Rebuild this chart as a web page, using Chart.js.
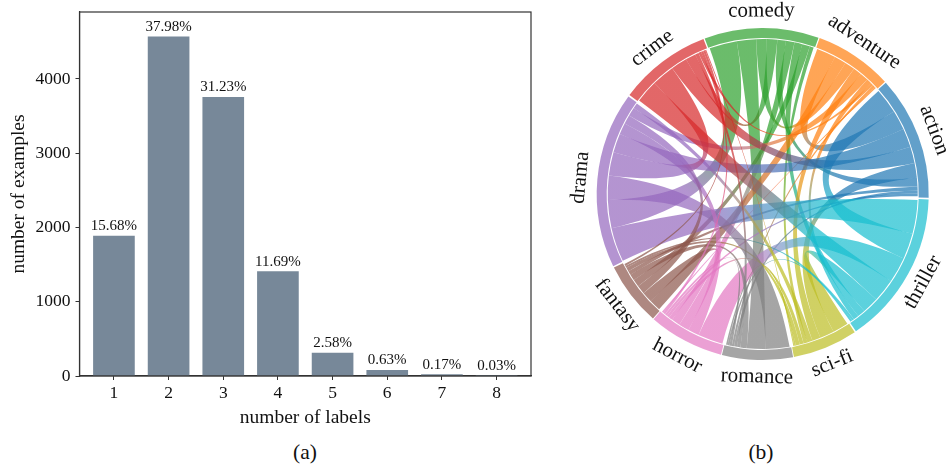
<!DOCTYPE html>
<html>
<head>
<meta charset="utf-8">
<script src="https://cdn.jsdelivr.net/npm/chart.js@4"></script>
<style>
    html, body { margin: 0; padding: 0; width: 946px; height: 466px; overflow: hidden; background: #fff; }
    canvas { position: absolute; }
    #bars { left: 0; top: 0; }
    #chord { left: 560px; top: 0; }
    .caption { position: absolute; top: 440px; font: 21.5px "Liberation Serif", serif; color: #111; transform: translateX(-50%); }
</style>
</head>
<body>
<canvas id="bars" width="560" height="430"></canvas>
<canvas id="chord" width="386" height="388"></canvas>
<div class="caption" style="left: 305px">(a)</div>
<div class="caption" style="left: 761px">(b)</div>
<script>
const SERIF = '"Liberation Serif", serif';

// left panel
const labelCounts = [1, 2, 3, 4, 5, 6, 7, 8];
const examples = [1885, 4566, 3754, 1405, 310, 76, 20, 4];
const percents = ["15.68%", "37.98%", "31.23%", "11.69%", "2.58%", "0.63%", "0.17%", "0.03%"];
const yTicks = [0, 1000, 2000, 3000, 4000];

// right panel, co-occurrence per genre, same order as the columns
const genres = ["comedy", "adventure", "action", "thriller", "sci-fi", "romance", "horror", "fantasy", "drama", "crime"];
const comedy = [0, 39, 32, 29, 15, 72, 32, 29, 103, 39];
const adventure = [39, 0, 73, 20, 32, 9, 6, 45, 32, 10];
const action = [32, 73, 0, 95, 55, 11, 10, 15, 70, 61];
const thriller = [29, 20, 95, 0, 60, 7, 95, 8, 125, 86];
const scifi = [15, 32, 55, 60, 0, 6, 15, 15, 20, 4];
const romance = [72, 9, 11, 7, 6, 0, 9, 24, 90, 13];
const horror = [32, 6, 10, 95, 15, 9, 0, 40, 42, 9];
const fantasy = [29, 45, 15, 8, 15, 24, 40, 0, 33, 8];
const drama = [103, 32, 70, 125, 20, 90, 42, 33, 0, 86];
const crime = [39, 10, 61, 86, 4, 13, 9, 8, 86, 0];
const genreColors = ["44,160,44", "255,127,14", "31,119,180", "23,190,207", "188,189,34",
    "127,127,127", "227,119,194", "140,86,75", "148,103,189", "214,39,40"];

const matrix = [comedy, adventure, action, thriller, scifi, romance, horror, fantasy, drama, crime];
const totals = matrix.map(row => row.reduce((a, b) => a + b, 0));

// box around the plot and the percentages above the bars
const barExtras = {
    id: "barExtras",
    afterDatasetsDraw(chart) {
        const c = chart.ctx;
        const area = chart.chartArea;
        c.save();
        c.strokeStyle = "#333";
        c.lineWidth = 1.2;
        c.strokeRect(area.left, area.top, area.right - area.left, area.bottom - area.top);
        c.fillStyle = "#111";
        c.font = "15px " + SERIF;
        c.textAlign = "center";
        c.textBaseline = "alphabetic";
        chart.getDatasetMeta(0).data.forEach((bar, i) => {
            c.fillText(percents[i], bar.x, bar.y - 6);
        });
        c.restore();
    }
};

new Chart(document.getElementById("bars"), {
    type: "bar",
    data: {
        datasets: [{
            data: labelCounts.map((n, i) => ({ x: n, y: examples[i] })),
            backgroundColor: "#778899",
            barThickness: 41
        }]
    },
    options: {
        responsive: false,
        animation: false,
        layout: { padding: { top: 12, right: 29 } },
        plugins: { legend: { display: false }, tooltip: { enabled: false } },
        scales: {
            x: {
                type: "linear",
                offset: false,
                min: 0.37,
                max: 8.63,
                afterFit: s => { s.height = 54; s.paddingLeft = 0; s.paddingRight = 0; },
                afterBuildTicks: s => { s.ticks = labelCounts.map(v => ({ value: v })); },
                grid: { offset: false, drawOnChartArea: false, tickLength: 4, tickColor: "#333" },
                border: { color: "#333", width: 1.2 },
                ticks: {
                    autoSkip: false,
                    maxRotation: 0,
                    color: "#111",
                    font: { family: SERIF, size: 17.5 },
                    padding: 3,
                    callback: v => String(v)
                },
                title: {
                    display: true,
                    text: "number of labels",
                    color: "#111",
                    font: { family: SERIF, size: 19.5 },
                    padding: 0
                }
            },
            y: {
                min: 0,
                max: 4902,
                afterFit: s => { s.width = 79.5; s.paddingTop = 0; s.paddingBottom = 0; },
                afterBuildTicks: s => { s.ticks = yTicks.map(v => ({ value: v })); },
                grid: { drawOnChartArea: false, tickLength: 4, tickColor: "#333" },
                border: { color: "#333", width: 1.2 },
                ticks: {
                    color: "#111",
                    font: { family: SERIF, size: 17.5 },
                    padding: 5,
                    callback: v => String(v)
                },
                title: {
                    display: true,
                    text: "number of examples",
                    color: "#111",
                    font: { family: SERIF, size: 19.5 },
                    padding: { top: 7, bottom: 0 }
                }
            }
        }
    },
    plugins: [barExtras]
});

// ribbons between the ring slices, each slice handing out its width biggest partner first
const GAP = 1.4 * Math.PI / 180;
const RIBBON_R = 155;
const CONTROL_R = 46;

function slotsFor(meta) {
    const slots = matrix.map(() => []);
    matrix.forEach((row, i) => {
        const arc = meta.data[i];
        const start = arc.startAngle + GAP / 2;
        const scale = (arc.endAngle - arc.startAngle - GAP) / totals[i];
        const order = row.map((v, j) => j).filter(j => row[j] > 0).sort((a, b) => row[b] - row[a]);
        let pos = start;
        order.forEach(j => {
            slots[i][j] = [pos, pos + row[j] * scale];
            pos += row[j] * scale;
        });
    });
    return slots;
}

const ribbons = {
    id: "ribbons",
    afterDatasetsDraw(chart) {
        const c = chart.ctx;
        const meta = chart.getDatasetMeta(0);
        const cx = meta.data[0].x;
        const cy = meta.data[0].y;
        const slots = slotsFor(meta);
        const px = (a, r) => cx + r * Math.cos(a);
        const py = (a, r) => cy + r * Math.sin(a);

        c.save();
        matrix.forEach((row, i) => {
            row.forEach((v, j) => {
                if (j <= i || v <= 0) return;
                const [a0, a1] = slots[i][j];
                const [b0, b1] = slots[j][i];
                const am = (a0 + a1) / 2;
                const bm = (b0 + b1) / 2;
                const grad = c.createLinearGradient(px(am, RIBBON_R), py(am, RIBBON_R), px(bm, RIBBON_R), py(bm, RIBBON_R));
                grad.addColorStop(0.3, "rgba(" + genreColors[i] + ",0.7)");
                grad.addColorStop(0.7, "rgba(" + genreColors[j] + ",0.7)");
                c.fillStyle = grad;
                c.beginPath();
                c.moveTo(px(a0, RIBBON_R), py(a0, RIBBON_R));
                c.arc(cx, cy, RIBBON_R, a0, a1);
                c.bezierCurveTo(px(a1, CONTROL_R), py(a1, CONTROL_R), px(b0, CONTROL_R), py(b0, CONTROL_R), px(b0, RIBBON_R), py(b0, RIBBON_R));
                c.arc(cx, cy, RIBBON_R, b0, b1);
                c.bezierCurveTo(px(b1, CONTROL_R), py(b1, CONTROL_R), px(a0, CONTROL_R), py(a0, CONTROL_R), px(a0, RIBBON_R), py(a0, RIBBON_R));
                c.closePath();
                c.fill();
            });
        });

        // genre names follow the ring, flipped on the lower half
        c.fillStyle = "#111";
        c.font = "21px " + SERIF;
        c.textAlign = "center";
        c.textBaseline = "middle";
        meta.data.forEach((arc, i) => {
            const a = (arc.startAngle + arc.endAngle) / 2;
            const up = Math.sin(a) < 0.05;
            c.save();
            c.translate(px(a, 183), py(a, 183));
            c.rotate(up ? a + Math.PI / 2 : a - Math.PI / 2);
            c.fillText(genres[i], 0, 0);
            c.restore();
        });
        c.restore();
    }
};

new Chart(document.getElementById("chord"), {
    type: "doughnut",
    data: {
        labels: genres,
        datasets: [{
            data: totals,
            backgroundColor: genreColors.map(rgb => "rgba(" + rgb + ",0.7)"),
            borderWidth: 0,
            spacing: 4
        }]
    },
    options: {
        responsive: false,
        animation: false,
        rotation: -20.7,
        radius: 164,
        cutout: "93.9%",
        layout: { padding: { left: 19.4 } },
        plugins: { legend: { display: false }, tooltip: { enabled: false } }
    },
    plugins: [ribbons]
});
</script>
</body>
</html>
